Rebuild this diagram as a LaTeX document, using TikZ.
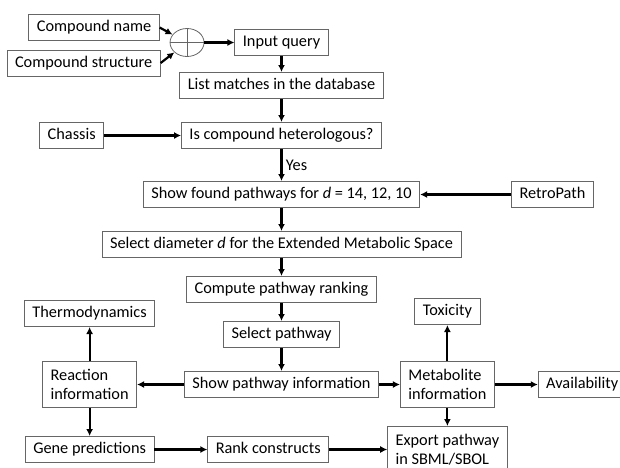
\documentclass[tikz,border=0pt]{standalone}
\usepackage{fontspec}
\setmainfont{Carlito}
\usetikzlibrary{arrows.meta, positioning, shapes.geometric}
\tikzstyle{block} = [draw=black!60, line width=0.8pt, rectangle, font=\fontsize{16.3}{19.5}\selectfont, inner xsep=8pt]
\tikzstyle{stepbox} = [block, inner ysep=0pt, minimum height=26.2pt, text height=12pt, text depth=4pt]
\tikzstyle{infobox} = [block, align=left, inner ysep=3pt, minimum height=46.2pt]
\tikzstyle{mixer} = [draw=black!60, line width=0.8pt, ellipse, minimum width=34pt, minimum height=28pt, inner sep=0pt]
\tikzstyle{label} = [font=\fontsize{16.3}{19.5}\selectfont]
\tikzstyle{flow} = [-{Latex[length=7pt, width=7pt]}, line width=2.2pt]

\begin{document}
\begin{tikzpicture}[node distance=20pt, auto]
    \useasboundingbox (0pt, 0pt) rectangle (620pt, -467pt);

    % Main column.
    \node (query) [stepbox] at (281.5pt, -42.5pt) {Input query};
    \node (list) [stepbox, below=16pt of query] {List matches in the database};
    \node (hetero) [stepbox, below=23pt of list] {Is compound heterologous?};
    \node (found) [stepbox, below=32pt of hetero] {Show found pathways for \textit{d} = 14, 12, 10};
    \node (diameter) [stepbox, below=23pt of found] {Select diameter \textit{d} for the Extended Metabolic Space};
    \node (ranking) [stepbox, below=18pt of diameter] {Compute pathway ranking};
    \node (select) [stepbox, below=18pt of ranking] {Select pathway};
    \node (show) [stepbox, below=23pt of select] {Show pathway information};

    % Inputs.
    \node (plus) [mixer, left=30pt of query] {};
    \draw [draw=black!60, line width=0.8pt] (plus.north) -- (plus.south) (plus.west) -- (plus.east);
    \node (name) [stepbox, anchor=east] at ([xshift=-10pt, yshift=15pt] plus.west) {Compound name};
    \node (structure) [stepbox, anchor=east] at ([xshift=-9pt, yshift=-20.5pt] plus.west) {Compound structure};
    \node (chassis) [stepbox, left=77pt of hetero] {Chassis};
    \node (retro) [stepbox, right=91pt of found] {RetroPath};

    % Pathway details.
    \node (reaction) [infobox, left=47pt of show] {Reaction\\information};
    \node (thermo) [stepbox, above=34pt of reaction] {Thermodynamics};
    \node (gene) [stepbox, below=28pt of reaction] {Gene predictions};
    \node (constructs) [stepbox, right=53pt of gene] {Rank constructs};
    \node (metab) [infobox, right=21pt of show] {Metabolite\\information};
    \node (toxicity) [stepbox, above=36pt of metab] {Toxicity};
    \node (avail) [stepbox, right=43pt of metab] {Availability};
    \node (export) [infobox, below=18pt of metab] {Export pathway\\in SBML/SBOL};

    % Arrows.
    \draw [flow] (name.east) -- (plus);
    \draw [flow] (structure.east) -- (plus);
    \draw [flow] (plus) -- (query);
    \draw [flow] (chassis) -- (hetero);
    \draw [flow] (hetero) -- node [label, right] {Yes} (found);
    \draw [flow] (retro) -- (found);

    \foreach \a/\b in {query/list, list/hetero, found/diameter, diameter/ranking, ranking/select, select/show} {%
        \draw [flow] (\a) -- (\b);
    }
    \foreach \a/\b in {show/reaction, show/metab, reaction/thermo, reaction/gene, gene/constructs, constructs/export, metab/toxicity, metab/avail, metab/export} {%
        \draw [flow] (\a) -- (\b);
    }
\end{tikzpicture}
\end{document}
